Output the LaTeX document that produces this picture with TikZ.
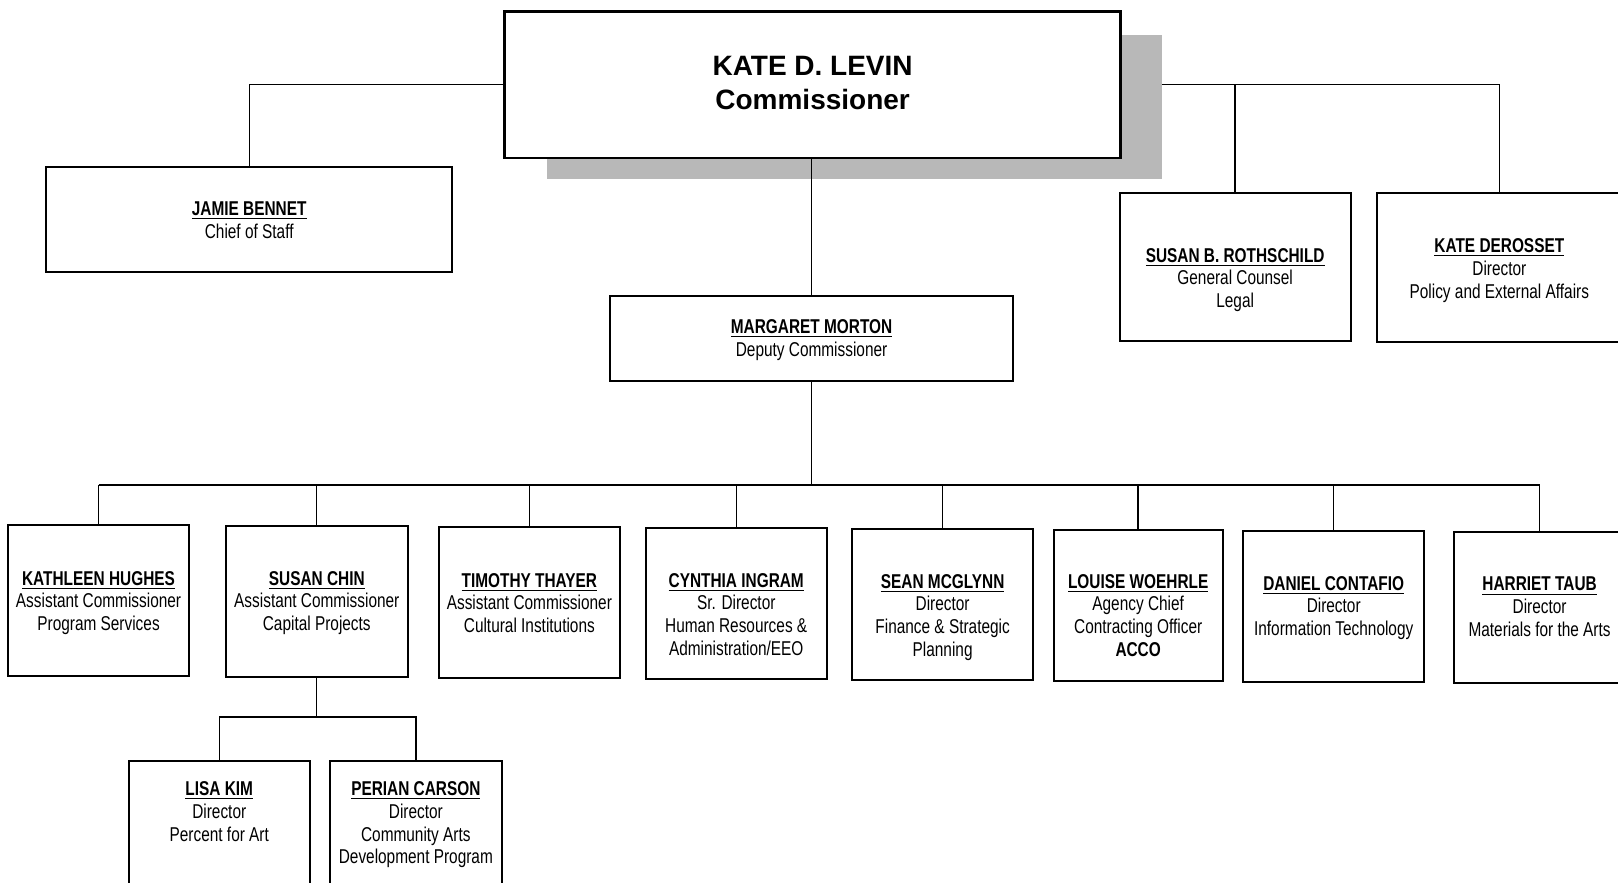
\documentclass[tikz,border=0pt]{standalone}
\usepackage{fontspec}
\setmainfont{Liberation Sans}
\newfontfamily\narrowfont[FakeStretch=0.77]{Liberation Sans}
\usetikzlibrary{fit}
\newcommand{\who}[1]{\underline{\textbf{#1}}}

\begin{document}
\begin{tikzpicture}[x=0.516pt, y=-0.516pt,
  orgbox/.style={draw, line width=1pt, fill=white, inner sep=0pt},
  orgtext/.style={anchor=north, align=center, inner sep=0pt, font=\narrowfont\fontsize{10}{11.4}\selectfont},
  link/.style={line width=0.7pt}]
\clip (0,0) rectangle (1568,855);
\fill[white] (0,0) rectangle (1568,855);

% commissioner and its shadow
\fill[black!28] (530,34) rectangle (1126,173);
\node[orgbox, line width=1.3pt, fit={(489,11) (1086,153)}] (levin) {};
\node[orgtext, font=\bfseries\fontsize{14}{17}\selectfont] (levin-t) at (787.5,54) {KATE D. LEVIN\\Commissioner};

% staff
\node[orgbox, fit={(45,162) (438,264)}] (bennet) {};
\node[orgtext] (bennet-t) at (241.5,195) {\who{JAMIE BENNET}\\Chief of Staff};
\node[orgbox, fit={(1085,187) (1309,330)}] (rothschild) {};
\node[orgtext] (rothschild-t) at (1197,240) {\who{SUSAN B. ROTHSCHILD}\\General Counsel\\Legal};
\node[orgbox, fit={(1334,187) (1572,331)}] (derosset) {};
\node[orgtext] (derosset-t) at (1453,231) {\who{KATE DEROSSET}\\Director\\Policy and External Affairs};
\node[orgbox, fit={(591,287) (982,369)}] (morton) {};
\node[orgtext] (morton-t) at (786.5,309) {\who{MARGARET MORTON}\\Deputy Commissioner};

% divisions
\foreach \id/\xa/\ya/\xb/\tx/\ty/\txt in {
  hughes/8/509/183/95.5/553/{\who{KATHLEEN HUGHES}\\Assistant Commissioner\\Program Services},
  chin/219/510/395/307/553/{\who{SUSAN CHIN}\\Assistant Commissioner\\Capital Projects},
  thayer/425/511/601/513/555/{\who{TIMOTHY THAYER}\\Assistant Commissioner\\Cultural Institutions},
  ingram/626/512/801/713.5/555/{\who{CYNTHIA INGRAM}\\Sr. Director\\Human Resources \&\\Administration/EEO},
  mcglynn/826/513/1001/913.5/556/{\who{SEAN MCGLYNN}\\Director\\Finance \& Strategic\\Planning},
  woehrle/1021/514/1185/1103/556/{\who{LOUISE WOEHRLE}\\Agency Chief\\Contracting Officer\\\textbf{ACCO}},
  contafio/1205/515/1380/1292.5/558/{\who{DANIEL CONTAFIO}\\Director\\Information Technology},
  taub/1409/516/1575/1492/559/{\who{HARRIET TAUB}\\Director\\Materials for the Arts}}
{
  \node[orgbox, fit={(\xa,\ya) (\xb,\ya+146)}] (\id) {};
  \node[orgtext] (\id-t) at (\tx,\ty) {\txt};
}

% under capital projects
\node[orgbox, fit={(125,737) (300,880)}] (kim) {};
\node[orgtext] (kim-t) at (212.5,757) {\who{LISA KIM}\\Director\\Percent for Art};
\node[orgbox, fit={(320,737) (486,880)}] (carson) {};
\node[orgtext] (carson-t) at (403,757) {\who{PERIAN CARSON}\\Director\\Community Arts\\Development Program};

% connectors
\draw[link] (levin.west) -| (bennet.north);
\coordinate (rt) at (1126,82);
\draw[link] (rt) -| (derosset.north);
\draw[link] (rt -| rothschild.north) -- (rothschild.north);
\draw[link] (levin.south -| morton.north) -- (morton.north);

\coordinate (bus) at (787,470);
\draw[link] (morton.south) -- (morton.south |- bus);
\draw[link] (hughes.north |- bus) -- (taub.north |- bus);
\foreach \id in {hughes,chin,thayer,ingram,mcglynn,woehrle,contafio,taub}
  \draw[link] (\id.north) -- (\id.north |- bus);

\coordinate (sub) at (307,695);
\draw[link] (chin.south) -- (chin.south |- sub);
\draw[link] (kim.north) -- (kim.north |- sub) -- (carson.north |- sub) -- (carson.north);
\end{tikzpicture}
\end{document}
